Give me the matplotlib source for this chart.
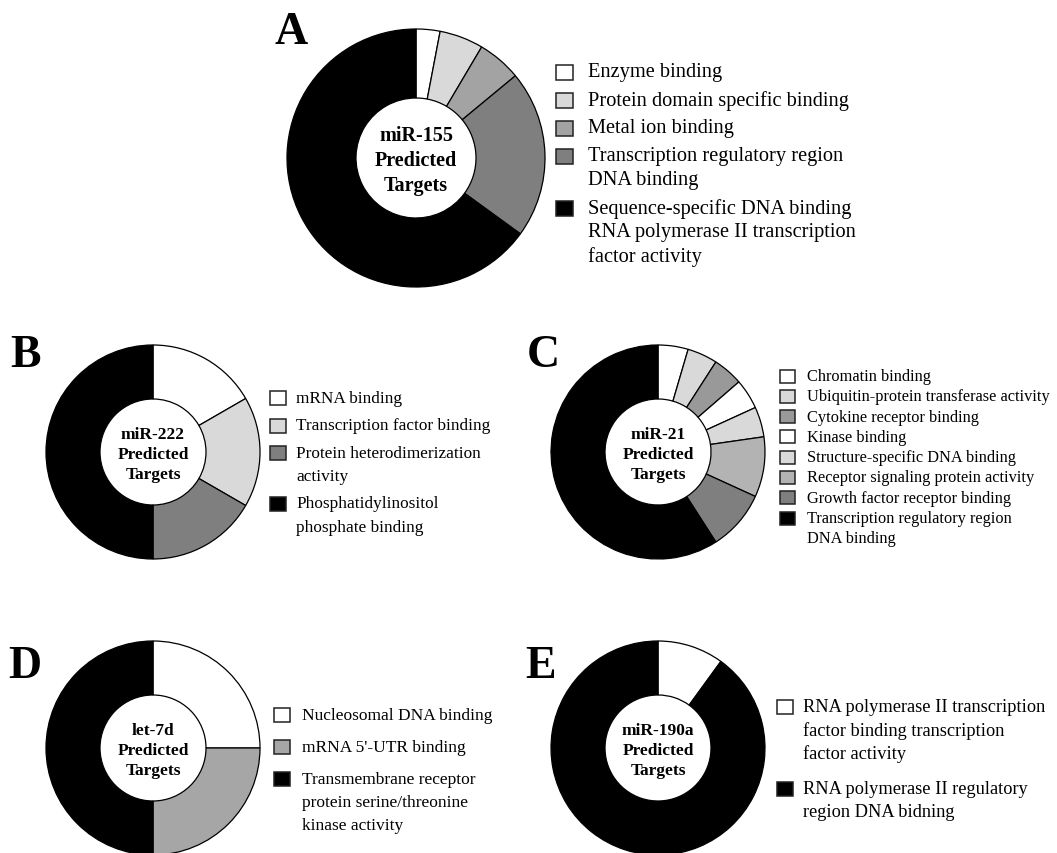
import matplotlib.pyplot as plt
from matplotlib.patches import Rectangle

# GO molecular function of predicted targets for each miRNA
plt.rcParams['font.family'] = ['Liberation Serif', 'DejaVu Serif']

W, H = 1057, 854

# A - miR-155
a_labels = ['Enzyme binding', 'Protein domain specific binding', 'Metal ion binding',
            'Transcription regulatory region\nDNA binding',
            'Sequence-specific DNA binding\nRNA polymerase II transcription\nfactor activity']
a_values = [3, 5.5, 5.5, 21, 65]
a_colors = ['white', '#d9d9d9', '#a3a3a3', '#7f7f7f', 'black']

# B - miR-222
b_labels = ['mRNA binding', 'Transcription factor binding',
            'Protein heterodimerization\nactivity',
            'Phosphatidylinositol\nphosphate binding']
b_values = [1, 1, 1, 3]
b_colors = ['white', '#d9d9d9', '#7f7f7f', 'black']

# C - miR-21
c_labels = ['Chromatin binding', 'Ubiquitin-protein transferase activity',
            'Cytokine receptor binding', 'Kinase binding',
            'Structure-specific DNA binding', 'Receptor signaling protein activity',
            'Growth factor receptor binding',
            'Transcription regulatory region\nDNA binding']
c_values = [1, 1, 1, 1, 1, 2, 2, 13]
c_colors = ['white', '#d9d9d9', '#999999', 'white', '#d9d9d9', '#b3b3b3', '#7f7f7f', 'black']

# D - let-7d
d_labels = ['Nucleosomal DNA binding', "mRNA 5'-UTR binding",
            'Transmembrane receptor\nprotein serine/threonine\nkinase activity']
d_values = [1, 1, 2]
d_colors = ['white', '#a6a6a6', 'black']

# E - miR-190a
e_labels = ['RNA polymerase II transcription\nfactor binding transcription\nfactor activity',
            'RNA polymerase II regulatory\nregion DNA bidning']
e_values = [1, 9]
e_colors = ['white', 'black']


fig = plt.figure(figsize=(W / 100, H / 100), dpi=100)
ax = fig.add_axes([0, 0, 1, 1])


def panel(letter, letter_xy, center, r, r_in, values, colors, title, title_fs,
          labels, leg_x, leg_y, fs, line_h, gap, box=(16, 14), pad=10):
    cx, cy = center
    ax.pie(values, colors=colors, startangle=90, counterclock=False,
           center=(cx, H - cy), radius=r,
           wedgeprops=dict(width=r - r_in, edgecolor='black', linewidth=0.9))
    ax.text(cx, H - cy - 2, title, ha='center', va='center', fontsize=title_fs,
            fontweight='bold', linespacing=1.35)
    ax.text(letter_xy[0], H - letter_xy[1], letter, ha='center', va='center',
            fontsize=33, fontweight='bold')
    y = leg_y
    for lab, col in zip(labels, colors):
        ax.add_patch(Rectangle((leg_x, H - y - box[1] / 2), box[0], box[1],
                               facecolor=col, edgecolor='#222222', linewidth=1.1))
        for line in lab.split('\n'):
            ax.text(leg_x + box[0] + pad, H - y, line, ha='left', va='center',
                    fontsize=fs)
            y += line_h
        y += gap


panel('A', (291, 33), (416, 159), 129, 60, a_values, a_colors,
      'miR-155\nPredicted\nTargets', 14.5, a_labels, 556, 73, 14.7, 24, 4,
      box=(17, 15), pad=15)
panel('B', (25, 356), (153, 453), 107, 53, b_values, b_colors,
      'miR-222\nPredicted\nTargets', 12.5, b_labels, 270, 399, 12.4, 23, 4.5)
panel('C', (543, 356), (658, 453), 107, 53, c_values, c_colors,
      'miR-21\nPredicted\nTargets', 12.5, c_labels, 780, 377, 11.8, 20.3, 0,
      box=(15, 13), pad=12)
panel('D', (25, 667), (153, 749), 107, 53, d_values, d_colors,
      'let-7d\nPredicted\nTargets', 12.5, d_labels, 274, 716, 12.5, 23, 9,
      pad=12)
panel('E', (541, 667), (658, 749), 107, 53, e_values, e_colors,
      'miR-190a\nPredicted\nTargets', 12.5, e_labels, 777, 708, 13.2, 23, 13)

ax.set_xlim(0, W)
ax.set_ylim(0, H)
ax.set_aspect('equal')
ax.axis('off')

fig.savefig('out.png', dpi=100)
